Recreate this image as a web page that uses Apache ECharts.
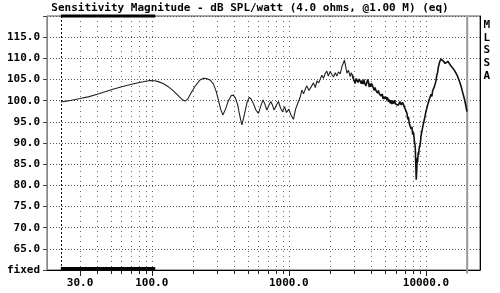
<!DOCTYPE html>
<html><head><meta charset="utf-8">
<script src="https://cdn.jsdelivr.net/npm/echarts@6/dist/echarts.min.js"></script>
<style>html,body{margin:0;padding:0;background:#fff}#c{width:500px;height:293px}</style>
</head><body><div id="c"></div>
<script>
const titleText = 'Sensitivity Magnitude - dB SPL/watt (4.0 ohms, @1.00 M) (eq)';
const freqHz = [21.8,25,30,34.4,40,45.6,52,60.4,70,79.8,90,97,105,111.7,122,132,145,156,166,175,182,190,207,225,238,252,268,282,295,306,318,330,345,362,380,394,408,422,438,454,467,480,497,515,533,551,575,600,622,646,668,691,715,739,760,781,810,840,870,900,930,960,1000,1030,1080,1120,1175,1209,1244,1280,1320,1353,1400,1450,1512,1560,1601,1650,1692,1741,1789,1840,1894,1940,2000,2060,2116,2180,2241,2300,2370,2437,2490,2546,2600,2651,2720,2802,2850,2900,2970,
  3047,3100,3150,3200,3260,3314,3380,3420,3480,3520,3570,3605,3650,3700,3760,3811,3860,3900,3950,4000,4070,4145,4200,4250,4310,4388,4430,4500,4570,4650,4720,4800,4870,4940,5000,5100,5192,5250,5320,5400,5489,5560,5630,5700,5800,5900,6000,6142,6300,6450,6600,6750,6864,7000,7150,7266,7380,7450,7560,7680,7800,7900,8000,8120,8250,8355,8430,8497,8570,8650,8700,8780,8831,8950,9100,9200,9350,9480,9600,9750,9883,10000,10150,10300,10447,10600,10750,10900,11050,11200,11365,11500,11800,12000,12153,12300,12450,12600,12718,12900,13050,13250,13447,13650,13800,14000,14236,14500,14796,15050,15300,15600,15906,16250,16600,16950,17298,17550,17800,18050,18316,18550,18800,19100,19361,19550,19700,19925];
const splDb = [99.7,100.0,100.5,100.9,101.5,102.1,102.7,103.3,103.8,104.25,104.6,104.75,104.7,104.5,104.0,103.3,102.2,101.2,100.3,99.9,100.3,101.4,103.4,104.9,105.3,105.2,104.8,103.9,102.2,100.2,98.0,96.6,98.0,100.0,101.2,101.3,100.6,99.2,96.5,94.3,95.8,97.6,99.8,100.8,100.3,99.3,97.8,97.0,98.6,100.2,99.2,97.8,98.9,99.8,98.9,97.8,98.9,99.8,98.2,97.4,98.6,97.2,98.0,96.8,95.6,98.0,99.8,100.8,102.5,101.6,102.8,103.5,102.4,103.2,104.2,103.1,104.7,104.2,104.0,106.0,105.3,106.4,107.0,105.8,106.9,106.2,105.6,106.6,105.8,106.8,106.3,108.0,108.4,109.6,108.0,106.5,107.2,105.7,106.6,106.1,105.0,
  104.1,105.2,105.6,104.3,105.1,104.9,104.0,104.8,103.9,105.0,104.2,104.6,103.5,104.2,105.0,104.3,103.2,104.0,103.3,104.1,103.6,103.2,102.4,103.1,102.5,102.9,101.8,102.4,101.6,102.0,101.1,101.6,100.4,101.0,100.4,100.9,100.2,100.8,99.7,100.3,99.4,100.1,99.2,99.9,99.3,100.1,99.2,99.6,98.9,99.8,99.0,99.6,99.0,98.3,97.6,97.0,95.6,96.2,94.6,95.0,93.3,93.8,92.0,92.5,90.3,89.1,85.0,81.3,83.5,86.5,85.5,87.8,87.2,89.0,89.8,91.6,92.0,93.8,94.0,95.6,96.0,97.4,97.2,99.0,98.8,100.4,100.2,101.5,101.0,102.4,102.1,103.2,104.5,106.0,106.6,107.8,108.2,109.2,108.9,109.8,109.6,109.9,109.3,109.6,108.8,109.1,108.6,109.3,109.2,108.4,108.7,107.8,108.0,107.0,106.8,105.9,105.7,104.6,104.6,103.4,103.3,101.9,101.8,100.4,100.2,98.8,98.5,97.4];
const heavyFromHz = 3000;
const gridFreqs = [30,40,50,60,70,80,90,100,200,300,400,500,600,700,800,900,1000,2000,3000,4000,5000,6000,7000,8000,9000,10000];
const xLabelFreqs = [30,100,1000,10000];
const markerStartHz = 21.7;
const markerEndHz = 20000;
const barRangeHz = [21.7, 106];
const sideLetters = ['M','L','S','S','A'];
const yMin = 60, yMax = 120, yStep = 5;
const xMin = 17.2, xMax = 24800;

const MONO = '"DejaVu Sans Mono", "Liberation Mono", monospace';
const chart = echarts.init(document.getElementById('c'), null, {renderer:'canvas'});
const pts = freqHz.map((f, i) => [f, splDb[i]]);

chart.setOption({
  animation: false,
  backgroundColor: '#fff',
  title: {
    text: titleText, left: 'center', top: 3, padding: 0,
    textStyle: {fontFamily: MONO, fontWeight: 'bold', fontSize: 11, color: '#000'}
  },
  graphic: [{
    type: 'text', left: 483.5, top: 18.6,
    style: {text: sideLetters.join('\n'), font: 'bold 11px ' + MONO, lineHeight: 12.7, fill: '#000'}
  }],
  grid: {left: 47, right: 20, top: 16, bottom: 23, show: true, borderColor: '#555', borderWidth: 1},
  xAxis: {
    type: 'log', logBase: 10, min: xMin, max: xMax,
    axisLine: {show: true, lineStyle: {color: '#000', width: 1}},
    axisTick: {show: false}, axisLabel: {show: false}, splitLine: {show: false}
  },
  yAxis: [{
    type: 'value', min: yMin, max: yMax, interval: yStep,
    axisLine: {show: true, lineStyle: {color: '#888'}},
    axisTick: {show: true, length: 4, lineStyle: {color: '#444'}},
    axisLabel: {
      margin: 7, fontFamily: MONO, fontWeight: 'bold', fontSize: 11, color: '#000',
      formatter: v => v === yMin ? 'fixed' : (v === yMax ? '' : v.toFixed(1))
    },
    splitLine: {show: true, lineStyle: {type: [1, 2], color: '#555'}}
  }, {
    type: 'value', position: 'right', min: yMin, max: yMax, interval: yStep,
    axisLine: {show: true, lineStyle: {color: '#000'}},
    axisTick: {show: false}, axisLabel: {show: false}, splitLine: {show: false}
  }],
  series: [
    {
      type: 'custom', silent: true, clip: false, z: 1,
      data: gridFreqs.map(f => [f, yMin]),
      renderItem: (params, api) => {
        const f = api.value(0);
        const top = api.coord([f, yMax]);
        const bot = api.coord([f, yMin]);
        const major = xLabelFreqs.indexOf(f) >= 0;
        const x = Math.round(bot[0]) + 0.5;
        const children = [
          {type: 'line', shape: {x1: x, y1: top[1], x2: x, y2: bot[1]},
           style: {stroke: '#666', lineWidth: 1, lineDash: [1, 4]}},
          {type: 'line', shape: {x1: x, y1: bot[1], x2: x, y2: bot[1] + (major ? 6 : 4)},
           style: {stroke: '#222', lineWidth: 1}}
        ];
        if (major) {
          children.push({type: 'text', style: {text: f.toFixed(1), x: bot[0], y: bot[1] + 13,
            align: 'center', verticalAlign: 'middle', font: 'bold 11px ' + MONO, fill: '#000'}});
        }
        return {type: 'group', children};
      }
    },
    {
      type: 'custom', silent: true, clip: false, z: 2,
      data: [[markerStartHz, yMin], [markerEndHz, yMin]],
      renderItem: (params, api) => {
        const f = api.value(0);
        const top = api.coord([f, yMax]);
        const bot = api.coord([f, yMin]);
        if (params.dataIndex === 0) {
          const x = Math.round(bot[0]) + 0.5;
          return {type: 'line', shape: {x1: x, y1: top[1], x2: x, y2: bot[1]},
            style: {stroke: '#111', lineWidth: 1, lineDash: [2, 2]}};
        }
        return {type: 'line', shape: {x1: bot[0], y1: top[1], x2: bot[0], y2: bot[1] + 3.5},
          style: {stroke: '#999', lineWidth: 2}};
      }
    },
    {
      type: 'custom', silent: true, clip: false, z: 3,
      data: [[barRangeHz[0], barRangeHz[1]]],
      renderItem: (params, api) => {
        const a = api.coord([api.value(0), yMax]);
        const b = api.coord([api.value(1), yMin]);
        return {type: 'group', children: [
          {type: 'rect', shape: {x: a[0], y: a[1] - 1.5, width: b[0] - a[0], height: 3}, style: {fill: '#000'}},
          {type: 'rect', shape: {x: a[0], y: b[1] - 3, width: b[0] - a[0], height: 3.5}, style: {fill: '#000'}}
        ]};
      }
    },
    {
      type: 'line', z: 5, showSymbol: false, symbol: 'none',
      data: pts.filter(p => p[0] <= heavyFromHz + 100),
      lineStyle: {color: '#222', width: 1.1}
    },
    {
      type: 'line', z: 5, showSymbol: false, symbol: 'none',
      data: pts.filter(p => p[0] >= heavyFromHz - 100),
      lineStyle: {color: '#111', width: 1.6}
    }
  ]
});
</script>
</body></html>
